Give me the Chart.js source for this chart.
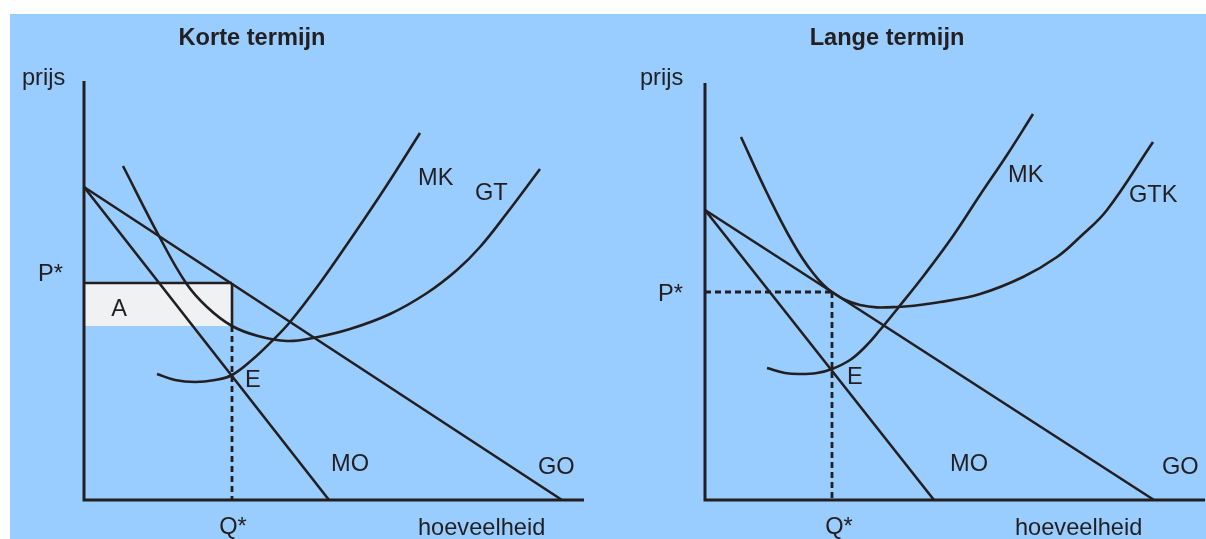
<!DOCTYPE html>
<html>
<head>
<meta charset="utf-8">
<script src="https://cdn.jsdelivr.net/npm/chart.js"></script>
<style>
  body { margin: 0; background: #fff; width: 1206px; height: 539px; position: relative; overflow: hidden; }
  #bg { position: absolute; left: 10px; top: 14px; width: 1196px; height: 525px; background: #99ccff; }
  canvas { position: absolute; top: 0; }
  #kort { left: 0; }
  #lang { left: 600px; }
</style>
</head>
<body>
<div id="bg"></div>
<canvas id="kort" width="600" height="539"></canvas>
<canvas id="lang" width="606" height="539"></canvas>
<script>
// Korte termijn (quantity, price)
const ktGO = [[0, 6.26], [9.56, 0]];
const ktMO = [[0, 6.26], [4.9, 0]];
const ktGT = [[0.78, 6.68], [1.5, 5.28], [2.04, 4.34], [2.46, 3.86], [2.96, 3.48], [3.48, 3.28], [4.06, 3.18],
    [4.58, 3.24], [5.32, 3.42], [6.12, 3.72], [6.86, 4.14], [7.46, 4.6], [7.92, 5.06], [8.46, 5.74], [9.12, 6.62]];
const ktMK = [[1.46, 2.52], [1.82, 2.4], [2.22, 2.36], [2.62, 2.4], [2.96, 2.5], [3.38, 2.82], [3.78, 3.2],
    [4.12, 3.56], [4.72, 4.34], [5.32, 5.2], [6.02, 6.24], [6.72, 7.34]];
const ktPStar = 4.34, ktQStar = 2.96, ktGTatQ = 3.48;

// Lange termijn
const ltGO = [[0, 5.8], [8.98, 0]];
const ltMO = [[0, 5.8], [4.58, 0]];
const ltGTK = [[0.72, 7.26], [1.24, 6.14], [1.76, 5.14], [2.16, 4.54], [2.54, 4.16], [3.1, 3.9], [3.84, 3.86],
    [4.7, 3.96], [5.5, 4.12], [6.36, 4.46], [7.04, 4.86], [7.5, 5.26], [8.04, 5.8], [8.96, 7.16]];
const ltMK = [[1.24, 2.64], [1.6, 2.54], [1.9, 2.52], [2.24, 2.54], [2.54, 2.62], [2.9, 2.8], [3.2, 3.06],
    [3.5, 3.4], [3.86, 3.84], [4.4, 4.52], [4.96, 5.28], [5.5, 6.1], [6.04, 6.9], [6.56, 7.72]];
const ltPStar = 4.16, ltQStar = 2.54;

const ink = '#231f20';
const pts = arr => arr.map(p => ({ x: p[0], y: p[1] }));

function line(data, extra) {
    return Object.assign({
        data: pts(data),
        showLine: true,
        pointRadius: 0,
        borderColor: ink,
        borderWidth: 2.6,
        fill: false,
        clip: false
    }, extra || {});
}
const curve = { tension: 0.4 };
const dashed = { borderDash: [6, 4], borderWidth: 2.8 };

function labelPlugin(items) {
    return {
        id: 'labels',
        afterDraw(chart) {
            const { ctx, scales: { x, y } } = chart;
            ctx.save();
            ctx.fillStyle = ink;
            ctx.textBaseline = 'alphabetic';
            items.forEach(l => {
                ctx.font = (l.bold ? 'bold ' : '') + '23.6px "Liberation Sans", Arial, sans-serif';
                ctx.textAlign = l.align || 'left';
                ctx.fillText(l.text, x.getPixelForValue(l.x), y.getPixelForValue(l.y));
            });
            ctx.restore();
        }
    };
}

function makeChart(id, datasets, labels, padding) {
    new Chart(document.getElementById(id), {
        type: 'scatter',
        data: { datasets: datasets },
        options: {
            responsive: false,
            animation: false,
            events: [],
            layout: { padding: padding },
            scales: {
                x: { type: 'linear', min: 0, max: 10, display: false },
                y: { type: 'linear', min: 0, max: 8.4, display: false }
            },
            plugins: {
                legend: { display: false },
                tooltip: { enabled: false },
                filler: { drawTime: 'beforeDatasetsDraw' }
            }
        },
        plugins: [labelPlugin(labels)]
    });
}

// left panel
makeChart('kort', [
    line([[0, ktPStar], [ktQStar, ktPStar]], { fill: { value: ktGTatQ }, backgroundColor: '#f0f1f3' }),
    line([[0, 8.38], [0, 0], [10, 0]], { borderWidth: 3, borderJoinStyle: 'miter' }),
    line(ktGO),
    line(ktMO),
    line(ktGT, curve),
    line(ktMK, curve),
    line([[ktQStar, ktPStar], [ktQStar, ktGTatQ]]),
    line([[ktQStar, ktGTatQ], [ktQStar, 0]], dashed)
], [
    { text: 'Korte termijn', x: 3.36, y: 9.1, align: 'center', bold: true },
    { text: 'prijs', x: -1.24, y: 8.3 },
    { text: 'P*', x: -0.92, y: 4.38 },
    { text: 'A', x: 0.7, y: 3.68, align: 'center' },
    { text: 'E', x: 3.22, y: 2.26 },
    { text: 'Q*', x: 2.98, y: -0.68, align: 'center' },
    { text: 'hoeveelheid', x: 6.68, y: -0.7 },
    { text: 'MO', x: 4.94, y: 0.58 },
    { text: 'GO', x: 9.08, y: 0.52 },
    { text: 'MK', x: 6.68, y: 6.3 },
    { text: 'GT', x: 7.82, y: 6.0 }
], { left: 84, right: 16, top: 80, bottom: 39 });

// right panel
makeChart('lang', [
    line([[0, 8.34], [0, 0], [10, 0]], { borderWidth: 3, borderJoinStyle: 'miter' }),
    line(ltGO),
    line(ltMO),
    line(ltGTK, curve),
    line(ltMK, curve),
    line([[0, ltPStar], [ltQStar, ltPStar]], dashed),
    line([[ltQStar, ltPStar], [ltQStar, 0]], dashed)
], [
    { text: 'Lange termijn', x: 3.64, y: 9.1, align: 'center', bold: true },
    { text: 'prijs', x: -1.3, y: 8.3 },
    { text: 'P*', x: -0.94, y: 3.98 },
    { text: 'E', x: 2.84, y: 2.32 },
    { text: 'Q*', x: 2.68, y: -0.68, align: 'center' },
    { text: 'hoeveelheid', x: 6.2, y: -0.7 },
    { text: 'MO', x: 4.9, y: 0.58 },
    { text: 'GO', x: 9.14, y: 0.52 },
    { text: 'MK', x: 6.06, y: 6.36 },
    { text: 'GTK', x: 8.48, y: 5.96 }
], { left: 105, right: 1, top: 80, bottom: 39 });
</script>
</body>
</html>
